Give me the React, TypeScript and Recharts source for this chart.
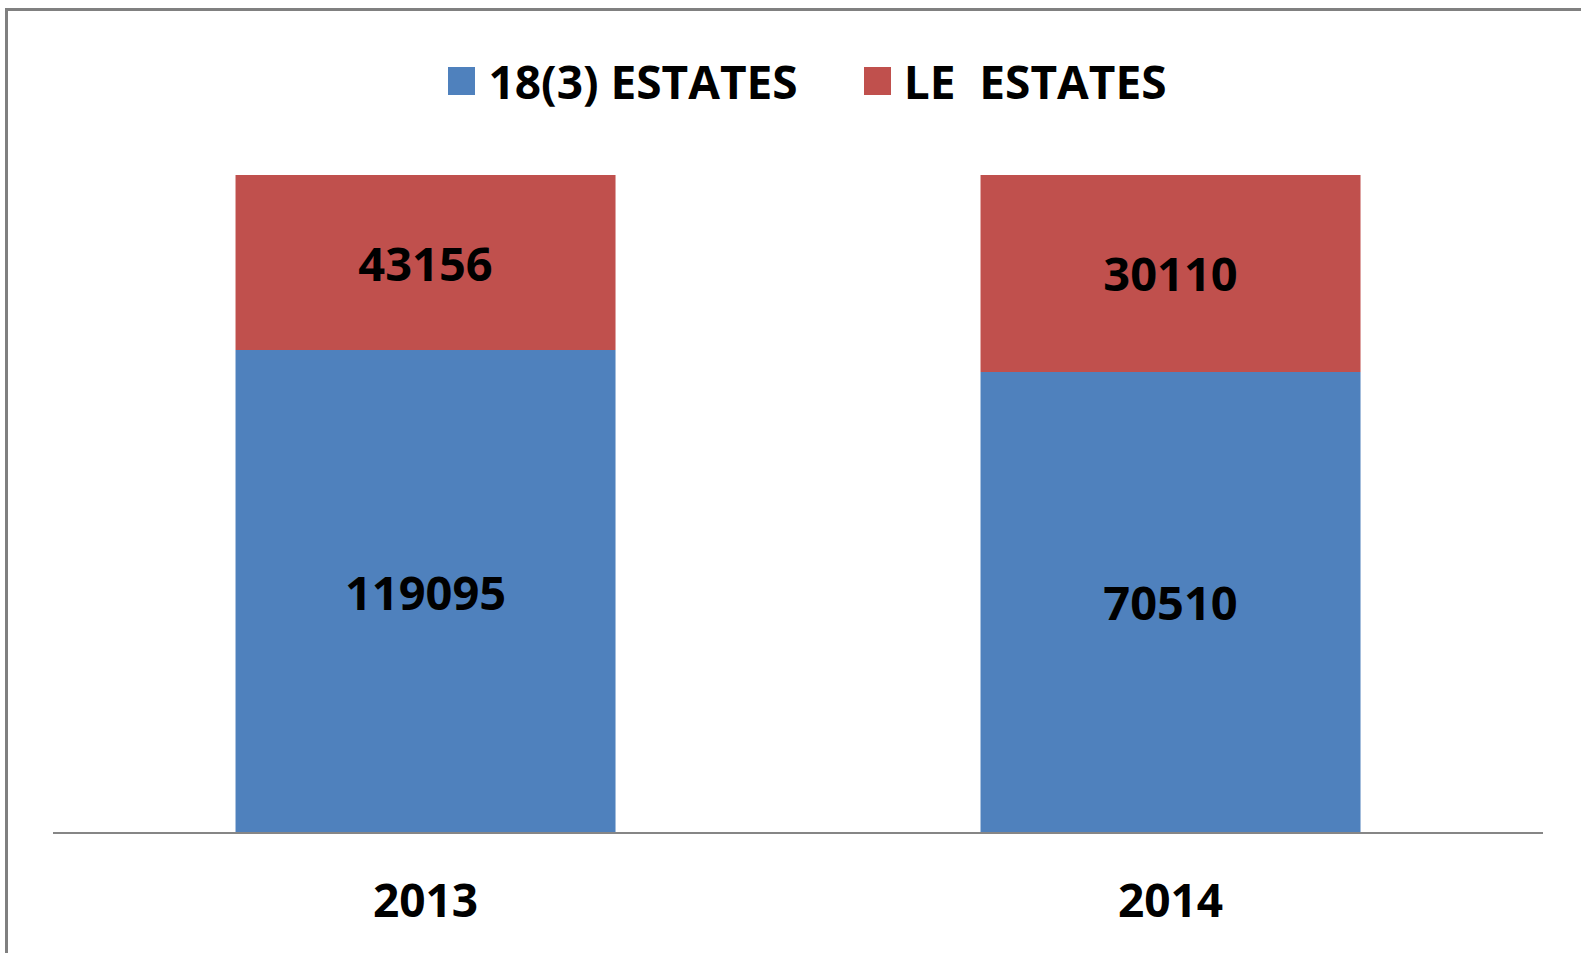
import { BarChart, Bar, XAxis, YAxis, Legend } from "recharts";

const YEARS = ["2013", "2014"];
const ESTATES_18_3 = [119095, 70510];
const LE_ESTATES = [43156, 30110];

const SERIES = [
  { key: "s183", name: "18(3) ESTATES", color: "#4F81BD", values: ESTATES_18_3 },
  { key: "le", name: "LE  ESTATES", color: "#C0504D", values: LE_ESTATES },
];

const data = YEARS.map((year, i) => ({
  year,
  s183: ESTATES_18_3[i],
  le: LE_ESTATES[i],
}));

const FONT = "'Open Sans', 'Noto Sans', sans-serif";

function LegendBox() {
  return (
    <div style={{ display: "flex", justifyContent: "center", alignItems: "center", fontFamily: FONT, paddingLeft: 34 }}>
      {SERIES.map((s, i) => (
        <div key={s.key} style={{ display: "flex", alignItems: "center", marginLeft: i === 0 ? 0 : 66 }}>
          <span style={{ display: "inline-block", width: 27, height: 28, background: s.color, marginRight: 13 }} />
          <span style={{ fontSize: 46, fontWeight: 700, color: "#000", whiteSpace: "pre", lineHeight: "56px" }}>{s.name}</span>
        </div>
      ))}
    </div>
  );
}

function YearTick(props: any) {
  const { x, y, payload } = props;
  return (
    <text x={x} y={y} dy={58} textAnchor="middle" dominantBaseline="central"
      fontFamily={FONT} fontSize={46} fontWeight={700} fill="#000">
      {payload.value}
    </text>
  );
}

function makeLabel(values: number[]) {
  return (props: any) => {
    const { x, y, width, height, index } = props;
    return (
      <text x={x + width / 2} y={y + height / 2} textAnchor="middle" dominantBaseline="central"
        fontFamily={FONT} fontSize={47} fontWeight={700} fill="#000">
        {values[index]}
      </text>
    );
  };
}

export default function App() {
  return (
    <div style={{ position: "absolute", left: 0, top: 0, width: 1581, height: 953, background: "#fff", overflow: "hidden" }}>
      <div style={{ position: "absolute", left: 5, top: 8, width: 1600, height: 1000, borderTop: "3px solid #808080", borderLeft: "3px solid #808080" }} />
      <div style={{ position: "absolute", left: 0, top: 0 }}>
        <BarChart width={1581} height={953} data={data} stackOffset="expand" barCategoryGap="24.5%"
          margin={{ top: 175, right: 38, bottom: 90, left: 53 }}>
          <XAxis dataKey="year" axisLine={{ stroke: "#868686", strokeWidth: 2 }} tickLine={false} tick={<YearTick />} />
          <YAxis hide domain={[0, 1]} />
          <Legend layout="vertical" verticalAlign="middle" align="center" content={() => <LegendBox />}
            wrapperStyle={{ top: 53, left: 0, width: 1581 }} />
          {SERIES.map((s) => (
            <Bar key={s.key} dataKey={s.key} name={s.name} stackId="a" fill={s.color}
              isAnimationActive={false} label={makeLabel(s.values)} />
          ))}
        </BarChart>
      </div>
    </div>
  );
}
